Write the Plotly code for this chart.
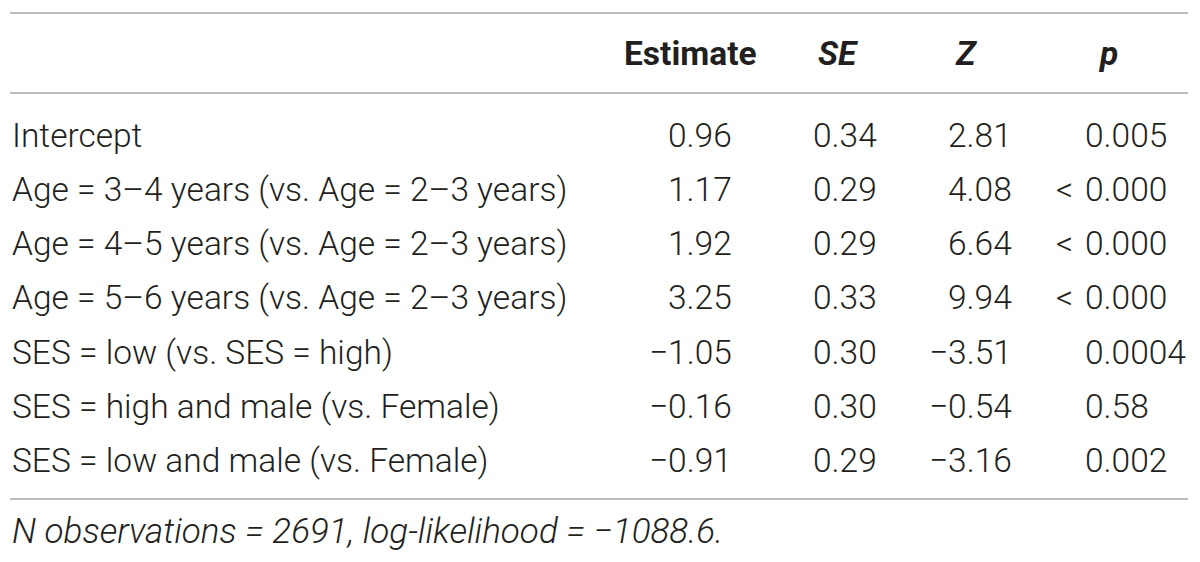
import plotly.graph_objects as go

# table contents
headers = ["Estimate", "<i>SE</i>", "<i>Z</i>", "<i>p</i>"]
terms = [
    "Intercept",
    "Age = 3–4 years (vs. Age = 2–3 years)",
    "Age = 4–5 years (vs. Age = 2–3 years)",
    "Age = 5–6 years (vs. Age = 2–3 years)",
    "SES = low (vs. SES = high)",
    "SES = high and male (vs. Female)",
    "SES = low and male (vs. Female)",
]
estimate = ["0.96", "1.17", "1.92", "3.25", "−1.05", "−0.16", "−0.91"]
se = ["0.34", "0.29", "0.29", "0.33", "0.30", "0.30", "0.29"]
z = ["2.81", "4.08", "6.64", "9.94", "−3.51", "−0.54", "−3.16"]
p = ["0.005", "< 0.000", "< 0.000", "< 0.000", "0.0004", "0.58", "0.002"]
note = "<i>N observations = 2691, log-likelihood = −1088.6.</i>"

FONT = "Roboto"
COLOR = "#231f20"
SIZE = 33.5

fig = go.Figure()

row_y0, row_dy = 135, 54.3
header_y = 53
ann = []

def add(text, x, y, anchor, bold=False, size=SIZE):
    ann.append(dict(
        x=x, y=y, xref="x", yref="y", text=text, showarrow=False,
        xanchor=anchor, yanchor="middle", borderpad=0,
        font=dict(family=FONT, size=size, color=COLOR,
                  weight=700 if bold else 300),
    ))

# headers
for h, cx in zip(headers, [690, 838, 966, 1108]):
    add(h, cx, header_y, "center", bold=True)

for i, t in enumerate(terms):
    y = row_y0 + i * row_dy
    add(t, 11, y, "left")
    add(estimate[i], 733, y, "right")
    add(se[i], 878, y, "right")
    add(z[i], 1013, y, "right")
    # p column: numbers share a left edge, "<" hangs in front
    if p[i].startswith("<"):
        add("<", 1074, y, "right")
        add(p[i][1:].strip(), 1084, y, "left")
    else:
        add(p[i], 1084, y, "left")

add(note, 11, 531, "left", size=35)

shapes = []
for ly in [13, 93, 499]:
    shapes.append(dict(type="line", xref="x", yref="y", x0=10, x1=1188,
                       y0=ly, y1=ly, line=dict(color="#a7a7a7", width=1.5)))

fig.add_trace(go.Scatter(x=[8, 1200], y=[8, 562], mode="markers",
                         marker=dict(opacity=0), hoverinfo="skip"))

# page body has an 8px margin, so shift ranges to keep screen coordinates
fig.update_layout(
    width=1200, height=562,
    margin=dict(l=0, r=0, t=0, b=0),
    paper_bgcolor="white", plot_bgcolor="white",
    showlegend=False,
    annotations=ann, shapes=shapes,
    xaxis=dict(range=[8, 1208], visible=False, fixedrange=True),
    yaxis=dict(range=[570, 8], visible=False, fixedrange=True),
)

fig.write_html("out.html", config={"displayModeBar": False})
